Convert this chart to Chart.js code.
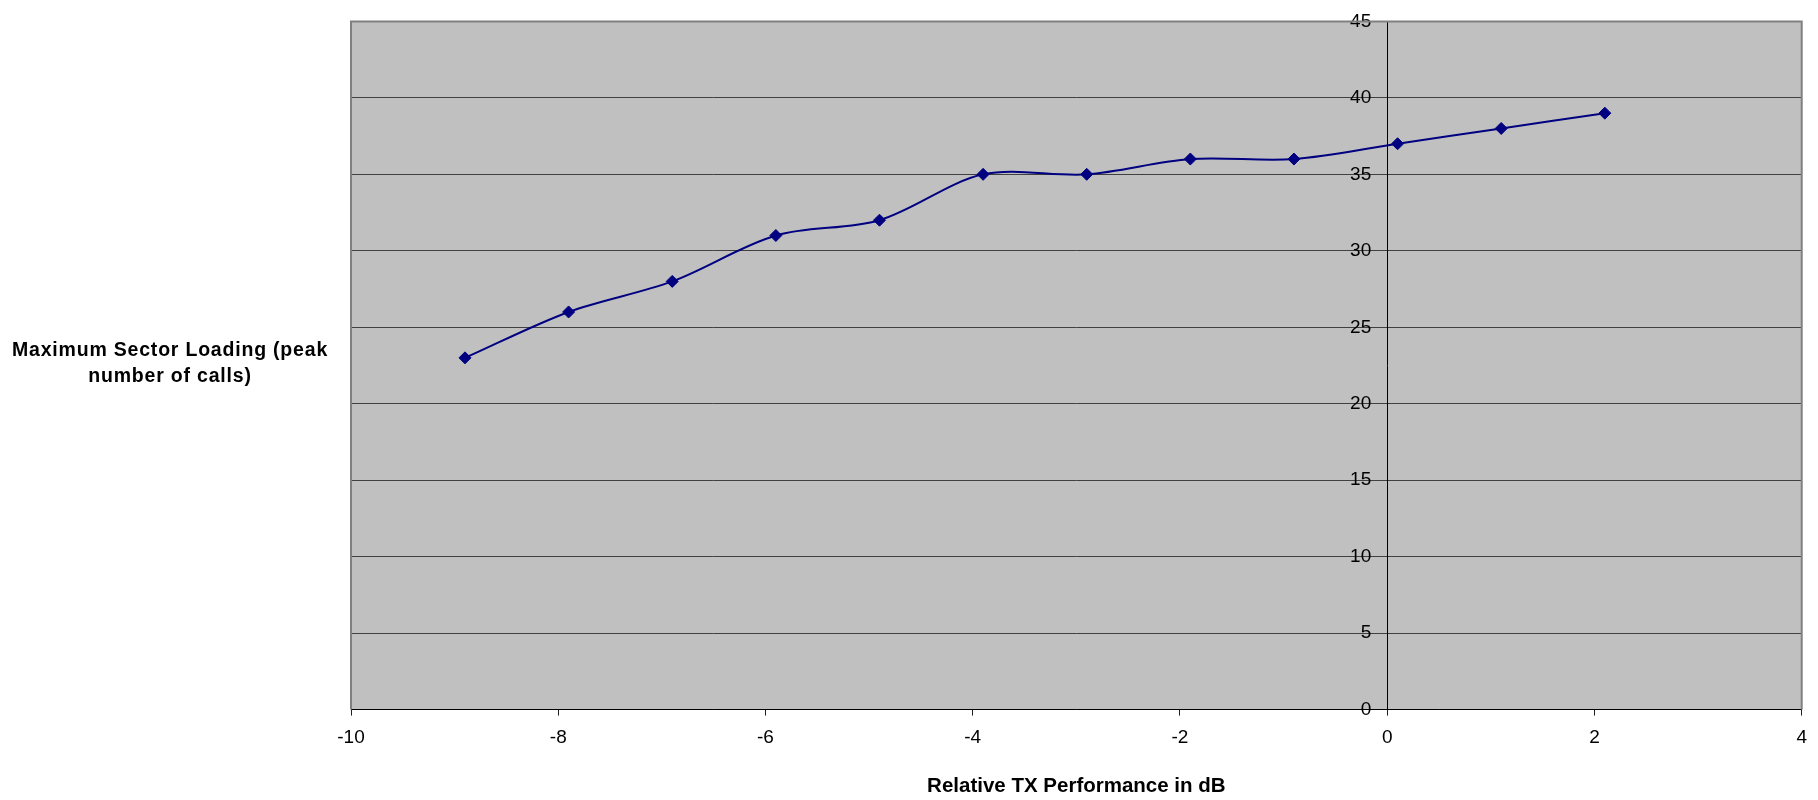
<!DOCTYPE html>
<html>
<head>
<meta charset="utf-8">
<title>Maximum Sector Loading vs Relative TX Performance</title>
<script src="https://cdn.jsdelivr.net/npm/chart.js@4.4.1/dist/chart.umd.min.js"></script>
<style>
  html, body { margin: 0; padding: 0; background: #ffffff; }
  #wrap { position: relative; width: 1818px; height: 800px; }
</style>
</head>
<body>
<div id="wrap"><canvas id="chart" width="1818" height="800"></canvas></div>
<script>
// Relative TX performance (dB) and the peak number of calls carried
const txPerformance = [-8.9, -7.9, -6.9, -5.9, -4.9, -3.9, -2.9, -1.9, -0.9, 0.1, 1.1, 2.1];
const peakCalls     = [23, 26, 28, 31, 32, 35, 35, 36, 36, 37, 38, 39];

const xTitle = 'Relative TX Performance in dB';
const yTitleLines = ['Maximum Sector Loading (peak', 'number of calls)'];

const FONT = '"Liberation Sans", Arial, Helvetica, sans-serif';
const Y_LABEL_GAP = 16; // space between the value labels and the y axis at x = 0

// Grey plot background, plot frame, label gap on the crossing y axis,
// and the horizontal y-axis caption
const plotFrame = {
  id: 'plotFrame',
  beforeDraw(chart) {
    const { ctx, chartArea: a } = chart;
    ctx.save();
    ctx.fillStyle = '#c0c0c0';
    ctx.fillRect(a.left, a.top, a.right - a.left, a.bottom - a.top);
    ctx.restore();

    // the y axis sits at x = 0, so its labels need to be pushed off the axis line
    const items = chart.scales.y.getLabelItems();
    if (!items._shifted) {
      items.forEach(it => { it.options.translation[0] -= Y_LABEL_GAP; });
      items._shifted = true;
    }
  },
  beforeDatasetsDraw(chart) {
    const { ctx, chartArea: a } = chart;
    ctx.save();
    ctx.strokeStyle = '#808080';
    ctx.lineWidth = 2;
    ctx.beginPath();
    ctx.moveTo(a.left, a.bottom);
    ctx.lineTo(a.left, a.top);
    ctx.lineTo(a.right, a.top);
    ctx.lineTo(a.right, a.bottom);
    ctx.stroke();
    ctx.restore();
  },
  afterDraw(chart) {
    const { ctx, chartArea: a } = chart;
    ctx.save();
    ctx.fillStyle = '#000000';
    ctx.font = 'bold 19.5px ' + FONT;
    if ('letterSpacing' in ctx) ctx.letterSpacing = '0.8px';
    ctx.textAlign = 'center';
    ctx.textBaseline = 'alphabetic';
    const mid = (a.top + a.bottom) / 2;
    ctx.fillText(yTitleLines[0], 170, mid - 10);
    ctx.fillText(yTitleLines[1], 170, mid + 16);
    ctx.restore();
  }
};

new Chart(document.getElementById('chart'), {
  type: 'line',
  data: {
    datasets: [{
      data: txPerformance.map((x, i) => ({ x, y: peakCalls[i] })),
      borderColor: '#000080',
      backgroundColor: '#000080',
      borderWidth: 2,
      tension: 0.32,
      pointStyle: 'rectRot',
      pointRadius: 6,
      pointBorderWidth: 1,
      pointBackgroundColor: '#000080',
      pointBorderColor: '#000080',
      fill: false
    }]
  },
  options: {
    responsive: false,
    animation: false,
    devicePixelRatio: 1,
    layout: { padding: { left: 351, right: 15, top: 16, bottom: 0 } },
    plugins: {
      legend: { display: false },
      tooltip: { enabled: false },
      title: { display: false }
    },
    scales: {
      x: {
        type: 'linear',
        position: 'bottom',
        min: -10,
        max: 4,
        ticks: {
          stepSize: 2,
          color: '#000000',
          font: { family: FONT, size: 19 },
          padding: 11,
          maxRotation: 0
        },
        grid: {
          display: true,
          drawOnChartArea: false,
          drawTicks: true,
          tickLength: 6,
          color: '#202020'
        },
        border: { display: true, color: '#000000', width: 1 },
        title: {
          display: true,
          text: xTitle,
          color: '#000000',
          font: { family: FONT, size: 20.5, weight: 'bold' },
          padding: { top: 14, bottom: 1 }
        }
      },
      y: {
        type: 'linear',
        position: { x: 0 },
        min: 0,
        max: 45,
        ticks: {
          stepSize: 5,
          color: '#000000',
          font: { family: FONT, size: 19 },
          padding: 10
        },
        grid: {
          display: true,
          drawOnChartArea: true,
          drawTicks: true,
          tickLength: 6,
          color: '#404040',
          lineWidth: 1
        },
        border: { display: true, color: '#000000', width: 1 }
      }
    }
  },
  plugins: [plotFrame]
});
</script>
</body>
</html>
